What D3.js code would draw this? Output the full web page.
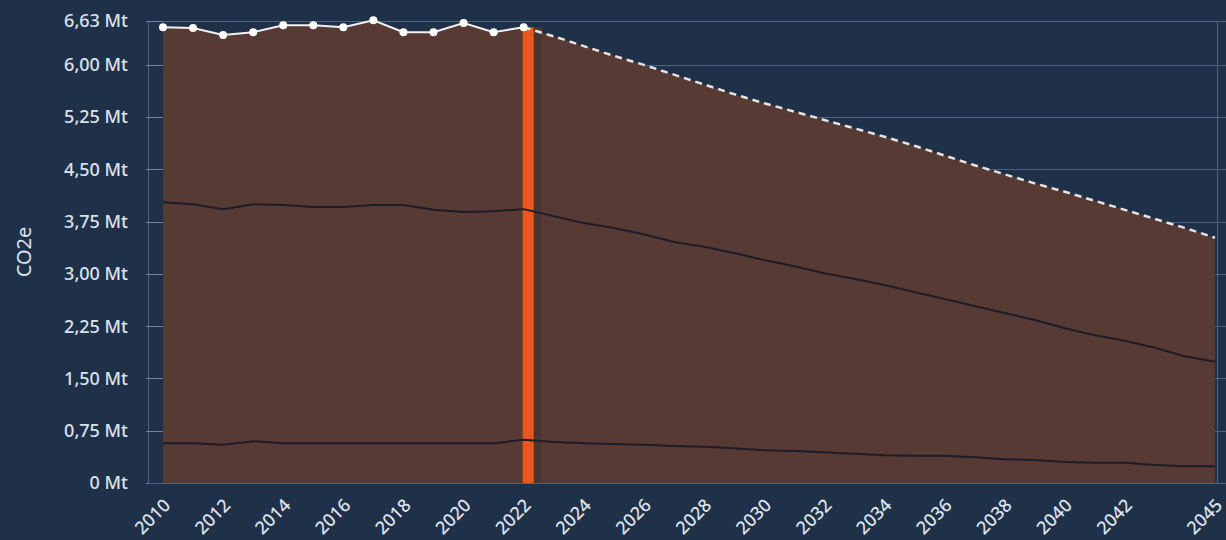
<!DOCTYPE html>
<html lang="en">
<head>
<meta charset="utf-8">
<title>CO2e</title>
<script src="https://d3js.org/d3.v7.min.js"></script>
<style>
  html, body { margin: 0; padding: 0; background: #1f3149; }
  #chart svg { display: block; }
</style>
</head>
<body>
<div id="chart"></div>
<script>
// data (Mt CO2e)
var years = d3.range(2010, 2046);
var histEnd = 2022;
var totalValues = [6.54, 6.53, 6.43, 6.47, 6.57, 6.57, 6.54, 6.64, 6.47, 6.47, 6.60, 6.47, 6.54,
                   6.41, 6.27, 6.13, 6.00, 5.86, 5.72, 5.58, 5.45, 5.33, 5.21, 5.09, 4.97, 4.84,
                   4.70, 4.56, 4.43, 4.30, 4.18, 4.05, 3.92, 3.79, 3.66, 3.52];
var midValues = [4.03, 4.00, 3.93, 4.00, 3.99, 3.96, 3.96, 3.99, 3.99, 3.92, 3.89, 3.90, 3.93,
                 3.83, 3.73, 3.66, 3.57, 3.46, 3.39, 3.30, 3.20, 3.11, 3.01, 2.93, 2.84, 2.74,
                 2.64, 2.54, 2.44, 2.34, 2.22, 2.12, 2.04, 1.94, 1.82, 1.74];
var lowValues = [0.57, 0.57, 0.55, 0.60, 0.57, 0.57, 0.57, 0.57, 0.57, 0.57, 0.57, 0.57, 0.62,
                 0.59, 0.57, 0.56, 0.55, 0.53, 0.52, 0.50, 0.47, 0.46, 0.44, 0.42, 0.40, 0.39,
                 0.39, 0.37, 0.34, 0.33, 0.30, 0.29, 0.29, 0.26, 0.24, 0.24];
var yTicks = [0, 0.75, 1.5, 2.25, 3.0, 3.75, 4.5, 5.25, 6.0, 6.63];
var xTicks = [2010, 2012, 2014, 2016, 2018, 2020, 2022, 2024, 2026, 2028, 2030, 2032,
              2034, 2036, 2038, 2040, 2042, 2045];

var W = 1226, H = 540;
var margin = {top: 21, left: 163, right: 11, bottom: 57};
var axisX = 148;

var data = years.map(function(y, i) {
  return {year: y, total: totalValues[i], mid: midValues[i], low: lowValues[i]};
});

var x = d3.scaleLinear().domain([2010, 2045]).range([margin.left, W - margin.right]);
var y = d3.scaleLinear().domain([0, 6.63]).range([H - margin.bottom, margin.top]);

var svg = d3.select("#chart").append("svg")
    .attr("width", W).attr("height", H);

svg.append("rect").attr("width", W).attr("height", H).attr("fill", "#1f3149");

var font = "'Noto Sans', 'Open Sans', sans-serif";
var textCol = "#dde2ea";

// gridlines
svg.selectAll(".grid").data(yTicks).enter().append("line")
    .attr("x1", axisX).attr("x2", W)
    .attr("y1", function(d) { return Math.round(y(d)) + 0.5; })
    .attr("y2", function(d) { return Math.round(y(d)) + 0.5; })
    .attr("stroke", "#4c6382").attr("stroke-width", 1);

// y axis line and right border line
svg.append("line").attr("x1", axisX + 0.5).attr("x2", axisX + 0.5)
    .attr("y1", y(6.63)).attr("y2", y(0)).attr("stroke", "#4c6382");
svg.append("line").attr("x1", 1217.5).attr("x2", 1217.5)
    .attr("y1", y(6.63)).attr("y2", y(0)).attr("stroke", "#4c6382");

// filled area
var area = d3.area()
    .x(function(d) { return x(d.year); })
    .y0(y(0))
    .y1(function(d) { return y(d.total); });
svg.append("path").datum(data).attr("d", area).attr("fill", "#563a33");

// shadow next to marker + orange marker at last measured year
var last = data[histEnd - 2010];
svg.append("rect")
    .attr("x", x(histEnd) + 10).attr("width", 8)
    .attr("y", y(last.total)).attr("height", y(0) - y(last.total))
    .attr("fill", "#4b3531");
svg.append("rect")
    .attr("x", x(histEnd) - 1).attr("width", 11)
    .attr("y", y(last.total)).attr("height", y(0) - y(last.total))
    .attr("fill", "#e8571c");

// inner boundary lines
["mid", "low"].forEach(function(k) {
  svg.append("path").datum(data)
    .attr("d", d3.line().x(function(d) { return x(d.year); }).y(function(d) { return y(d[k]); }))
    .attr("fill", "none").attr("stroke", "#1d1c28").attr("stroke-width", 2);
});

// top: measured (solid with dots) and projected (dashed)
var hist = data.filter(function(d) { return d.year <= histEnd; });
var proj = data.filter(function(d) { return d.year >= histEnd; });
var topLine = d3.line().x(function(d) { return x(d.year); }).y(function(d) { return y(d.total); });
svg.append("path").datum(proj).attr("d", topLine)
    .attr("fill", "none").attr("stroke", "#e6e2e2").attr("stroke-width", 2.5)
    .attr("stroke-dasharray", "7,5");
svg.append("path").datum(hist).attr("d", topLine)
    .attr("fill", "none").attr("stroke", "#f2f0f0").attr("stroke-width", 2);
svg.selectAll(".dot").data(hist).enter().append("circle")
    .attr("cx", function(d) { return x(d.year); })
    .attr("cy", function(d) { return y(d.total); })
    .attr("r", 4).attr("fill", "#ffffff");

// y axis ticks + labels
svg.selectAll(".ytick").data(yTicks).enter().append("line")
    .attr("x1", axisX - 2).attr("x2", margin.left)
    .attr("y1", function(d) { return Math.round(y(d)) + 0.5; })
    .attr("y2", function(d) { return Math.round(y(d)) + 0.5; })
    .attr("stroke", "#6d82a0");
var fmt = function(d) { return d === 0 ? "0 Mt" : d3.format(".2f")(d).replace(".", ",") + " Mt"; };
svg.selectAll(".ylab").data(yTicks).enter().append("text")
    .attr("x", 128).attr("y", function(d) { return y(d); })
    .attr("dy", "0.35em").attr("text-anchor", "end")
    .attr("font-family", font).attr("font-size", 18).attr("font-weight", 500).attr("fill", textCol)
    .text(fmt);

// x axis baseline + labels
svg.append("line").attr("x1", axisX).attr("x2", 1217)
    .attr("y1", y(0) + 0.5).attr("y2", y(0) + 0.5).attr("stroke", "#4c6382");
svg.selectAll(".xlab").data(xTicks).enter().append("text")
    .attr("transform", function(d) { return "translate(" + (x(d) + 4) + "," + (y(0) + 19) + ")rotate(-45)"; })
    .attr("text-anchor", "end").attr("dy", "0.35em")
    .attr("font-family", font).attr("font-size", 18).attr("font-weight", 500).attr("fill", textCol)
    .text(function(d) { return d; });

// y axis title
svg.append("text")
    .attr("transform", "translate(24," + ((y(0) + y(6.63)) / 2) + ")rotate(-90)")
    .attr("text-anchor", "middle").attr("dy", "0.35em")
    .attr("font-family", font).attr("font-size", 20).attr("fill", textCol)
    .text("CO2e");
</script>
</body>
</html>
